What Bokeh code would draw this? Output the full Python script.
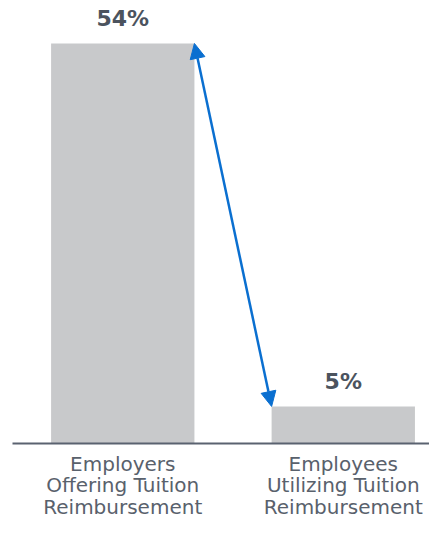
from bokeh.plotting import figure
from bokeh.models import Range1d, FixedTicker, Arrow, NormalHead
from bokeh.embed import file_html
from bokeh.resources import INLINE
from bokeh.core.properties import value

categories = ["Employers\nOffering Tuition\nReimbursement",
              "Employees\nUtilizing Tuition\nReimbursement"]
values = [54, 5]
value_labels = ["54%", "5%"]

BAR_W = 0.65
xs = [i + 0.5 for i in range(len(categories))]

p = figure(width=429, height=521, output_backend="svg", toolbar_location=None,
           x_range=Range1d(0, 1.891), y_range=Range1d(0, 59.8),
           y_axis_location=None, min_border_left=12, min_border_right=0,
           min_border_top=0, min_border_bottom=75)

p.vbar(x=xs, top=values, width=BAR_W, bottom=0, fill_color="#c8c9cb", line_color=None)

p.text(x=xs, y=values, text=value_labels, text_align="center", text_baseline="middle",
       y_offset=-25, text_font=value("DejaVu Sans"), text_font_style="bold",
       text_font_size="22px", text_color="#4b535e")

blue = "#0a6fd0"
p.add_layout(Arrow(start=NormalHead(size=15, fill_color=blue, line_color=blue),
                   end=NormalHead(size=15, fill_color=blue, line_color=blue),
                   x_start=xs[0] + BAR_W / 2, y_start=values[0],
                   x_end=xs[1] - BAR_W / 2, y_end=values[1],
                   line_color=blue, line_width=2.5))

p.xaxis.ticker = FixedTicker(ticks=xs)
p.xaxis.major_label_overrides = {x: c for x, c in zip(xs, categories)}
p.xaxis.major_tick_line_color = None
p.xaxis.minor_tick_line_color = None
p.xaxis.axis_line_color = "#5a6270"
p.xaxis.axis_line_width = 2
p.xaxis.major_label_text_font = "DejaVu Sans"
p.xaxis.major_label_text_font_size = "20px"
p.xaxis.major_label_text_line_height = 0.9
p.xaxis.major_label_text_color = "#59616c"
p.xaxis.major_label_standoff = 2

p.xgrid.visible = False
p.ygrid.visible = False
p.outline_line_color = None
p.background_fill_color = "white"
p.border_fill_color = "white"

open("out.html", "w").write(file_html(p, INLINE))
